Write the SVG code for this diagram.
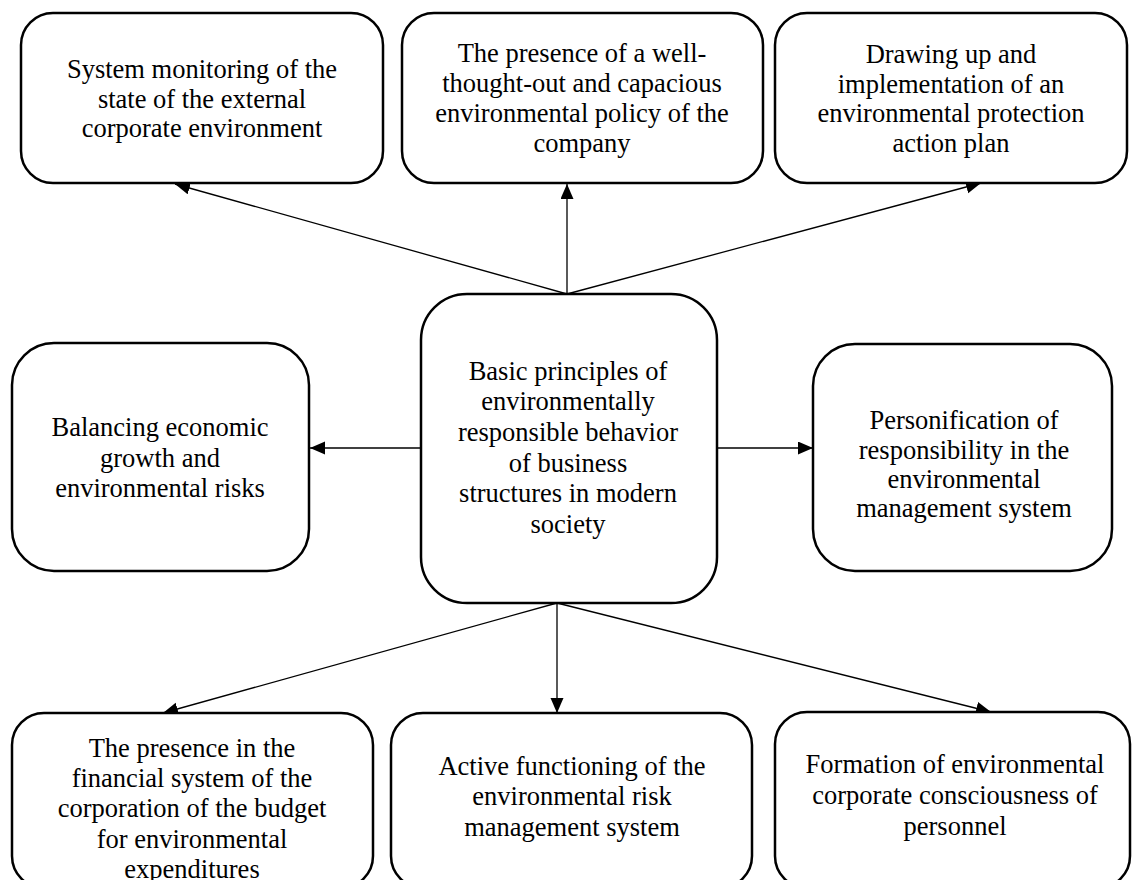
<svg xmlns="http://www.w3.org/2000/svg" width="1132" height="880" viewBox="0 0 1132 880">
<style>
.box{fill:#fff;stroke:#000;stroke-width:2.5}
.t{font-family:"Liberation Serif","Times New Roman",serif;font-size:26.5px;fill:#000;text-anchor:middle}
.c{stroke:#000;stroke-width:1.3;fill:none;marker-end:url(#ah)}
</style>
<defs>
<marker id="ah" markerUnits="userSpaceOnUse" markerWidth="16" markerHeight="14" refX="15" refY="6.5" orient="auto">
<path d="M0,0 L15,6.5 L0,13 z" fill="#000"/>
</marker>
</defs>
<rect width="1132" height="880" fill="#fff"/>
<g id="connectors">
<line class="c" x1="567" y1="294" x2="175" y2="184"/>
<line class="c" x1="567" y1="294" x2="567" y2="184"/>
<line class="c" x1="567" y1="294" x2="981" y2="183"/>
<line class="c" x1="421" y1="448" x2="310" y2="448"/>
<line class="c" x1="717" y1="448" x2="813" y2="448"/>
<line class="c" x1="557" y1="603" x2="163" y2="713"/>
<line class="c" x1="557" y1="603" x2="557" y2="713"/>
<line class="c" x1="557" y1="603" x2="991" y2="712"/>
</g>
<g id="n-center">
<rect class="box" x="421" y="294" width="296" height="309" rx="46"/>
<text class="t" x="568" y="380">Basic principles of</text>
<text class="t" x="568" y="410">environmentally</text>
<text class="t" x="568" y="441">responsible behavior</text>
<text class="t" x="568" y="472">of business</text>
<text class="t" x="568" y="502">structures in modern</text>
<text class="t" x="568" y="533">society</text>
</g>
<g id="n-top-left">
<rect class="box" x="21" y="13" width="362" height="170" rx="32"/>
<text class="t" x="202" y="78">System monitoring of the</text>
<text class="t" x="202" y="108">state of the external</text>
<text class="t" x="202" y="137">corporate environment</text>
</g>
<g id="n-top-mid">
<rect class="box" x="402" y="13" width="361" height="170" rx="32"/>
<text class="t" x="582" y="62">The presence of a well-</text>
<text class="t" x="582" y="92">thought-out and capacious</text>
<text class="t" x="582" y="122">environmental policy of the</text>
<text class="t" x="582" y="152">company</text>
</g>
<g id="n-top-right">
<rect class="box" x="775" y="13" width="352" height="170" rx="32"/>
<text class="t" x="951" y="63">Drawing up and</text>
<text class="t" x="951" y="93">implementation of an</text>
<text class="t" x="951" y="122">environmental protection</text>
<text class="t" x="951" y="152">action plan</text>
</g>
<g id="n-left">
<rect class="box" x="12" y="343" width="297" height="228" rx="42"/>
<text class="t" x="160" y="436">Balancing economic</text>
<text class="t" x="160" y="467">growth and</text>
<text class="t" x="160" y="497">environmental risks</text>
</g>
<g id="n-right">
<rect class="box" x="813" y="344" width="299" height="227" rx="42"/>
<text class="t" x="964" y="429">Personification of</text>
<text class="t" x="964" y="459">responsibility in the</text>
<text class="t" x="964" y="488">environmental</text>
<text class="t" x="964" y="517">management system</text>
</g>
<g id="n-bottom-left">
<rect class="box" x="12" y="713" width="361" height="175" rx="32"/>
<text class="t" x="192" y="757">The presence in the</text>
<text class="t" x="192" y="787">financial system of the</text>
<text class="t" x="192" y="817">corporation of the budget</text>
<text class="t" x="192" y="848">for environmental</text>
<text class="t" x="192" y="878">expenditures</text>
</g>
<g id="n-bottom-mid">
<rect class="box" x="391" y="713" width="361" height="175" rx="32"/>
<text class="t" x="572" y="775">Active functioning of the</text>
<text class="t" x="572" y="805">environmental risk</text>
<text class="t" x="572" y="836">management system</text>
</g>
<g id="n-bottom-right">
<rect class="box" x="775" y="712" width="355" height="176" rx="32"/>
<text class="t" x="955" y="773">Formation of environmental</text>
<text class="t" x="955" y="804">corporate consciousness of</text>
<text class="t" x="955" y="835">personnel</text>
</g>
</svg>
